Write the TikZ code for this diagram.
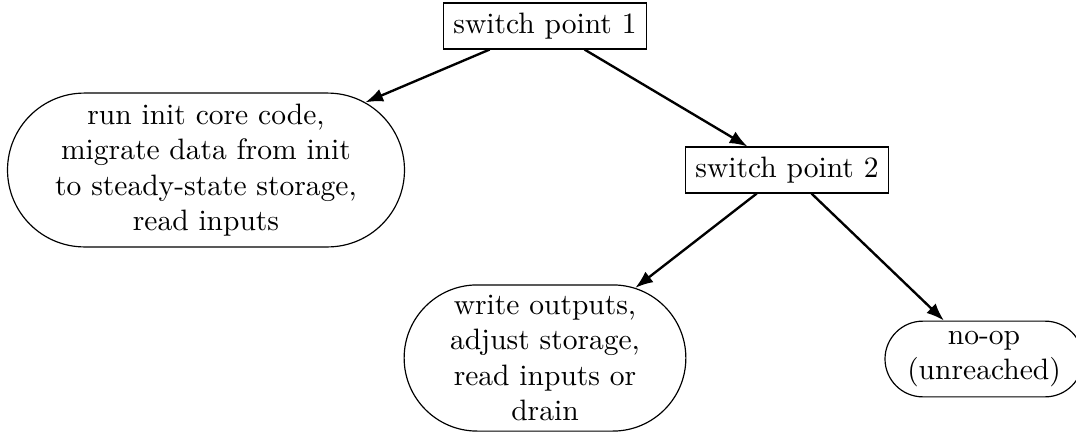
\documentclass[tikz,border=0pt]{standalone}
\usetikzlibrary{shapes.misc,arrows.meta}
\begin{document}
\begin{tikzpicture}[x=0.33863pt,y=-0.33863pt,
  box/.style={draw,line width=0.4pt,inner sep=3.33pt},
  pill/.style={draw,rounded rectangle,align=center,line width=0.4pt,inner sep=3.33pt},
  arr/.style={-{Latex[length=6pt,width=4.5pt]},line width=0.8pt}]
\useasboundingbox (0,0) rectangle (1076,432);
\node[box] (sp1) at (545,26) {switch point 1};
\node[pill,minimum height=52.1pt] (init) at (206,170) {run init core code,\\migrate data from init\\to steady-state storage,\\read inputs};
\node[box] (sp2) at (787,170) {switch point 2};
\node[pill,minimum height=49.5pt] (run) at (545,358) {write outputs,\\adjust storage,\\read inputs or\\drain};
\node[pill,minimum height=25.4pt] (noop) at (984,359) {no-op\\(unreached)};
\draw[arr] (sp1) -- (init);
\draw[arr] (sp1) -- (sp2);
\draw[arr] (sp2) -- (run);
\draw[arr] (sp2) -- (noop);
\end{tikzpicture}
\end{document}
